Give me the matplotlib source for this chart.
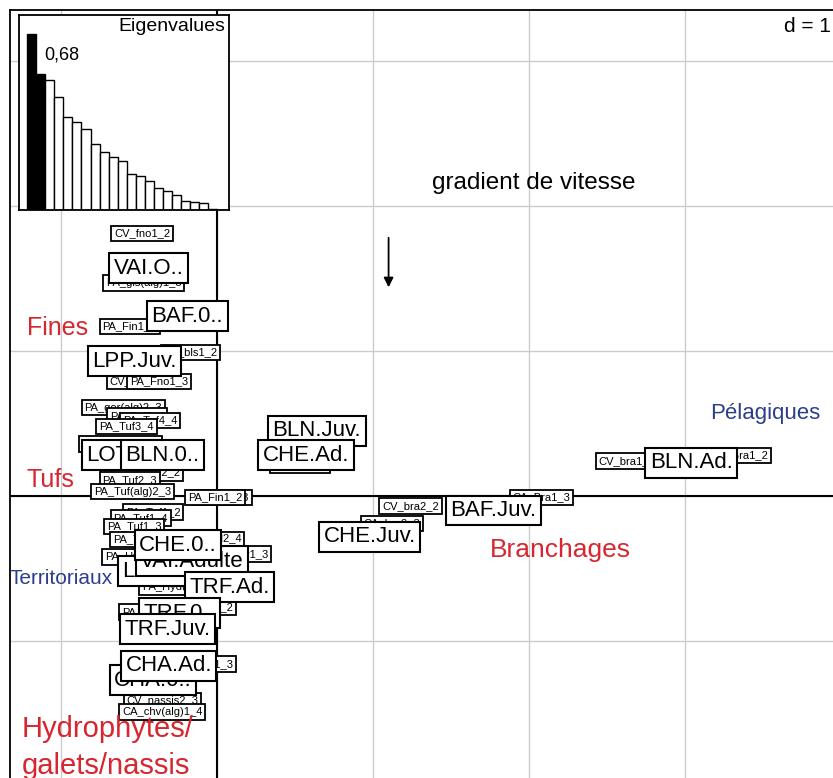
import matplotlib
matplotlib.use("Agg")
import matplotlib.pyplot as plt
import numpy as np

plt.rcParams['font.family'] = ['Liberation Sans', 'DejaVu Sans']

# ── eigenvalues (inset barplot) ─────────────────────────────────────
eigen = [0.68, 0.525, 0.502, 0.438, 0.358, 0.339, 0.313, 0.255, 0.223, 0.206,
         0.188, 0.139, 0.130, 0.113, 0.085, 0.072, 0.059, 0.033, 0.030, 0.026,
         0.004, 0.001]
n_kept = 2

# ── row scores (small labels: sites / substrates) ─────────────────
row_labels = ["CV_fno1_2", "PA_gis(alg)1_3", "PA_Fin1_1", "PA_bls1_2", "CV_fno1_3",
              "PA_Fno1_3", "PA_gor(alg)2_3", "PA_Tuf2_4", "PA_Tuf4_4", "PA_Tuf3_4",
              "PA_gor(alg)2_4", "PA_Tuf(alg)2_2", "PA_Tuf2_3", "PA_Tuf(alg)2_3",
              "PA_Fin1_3", "PA_Fin1_2", "PA_Tuf1_2", "PA_Tuf1_4", "PA_Tuf1_3",
              "PA_Tuf1_1", "PA_Hyd2_4", "PA_Hyd1_3", "PA_Ber1_3", "PA_Ber2_4",
              "PA_Hyd(alg)1_3", "PA_Ber1_4", "CV_Ber1_2", "CA_chv1_3",
              "CV_nassis2_3", "CA_chv(alg)1_4", "CV_bra2_2", "CA_Bra1_3",
              "CA_bra2_3", "CV_bra1_2", "CA_Bra1_2", "CV_bls2_2"]
row_x = [-0.48, -0.47, -0.56, -0.17, -0.51, -0.37, -0.60, -0.51, -0.43, -0.58,
         -0.62, -0.48, -0.56, -0.54, 0.03, -0.01, -0.41, -0.49, -0.53, -0.49,
         -0.03, -0.53, 0.15, -0.04, -0.22, -0.43, -0.08, -0.08, -0.35, -0.35,
         1.24, 2.08, 1.12, 2.63, 3.35, 0.53]
row_y = [1.81, 1.47, 1.17, 0.99, 0.79, 0.79, 0.61, 0.55, 0.52, 0.48,
         0.36, 0.16, 0.11, 0.03, -0.01, -0.01, -0.11, -0.15, -0.21, -0.30,
         -0.30, -0.42, -0.40, -0.49, -0.63, -0.80, -0.77, -1.16, -1.41, -1.49,
         -0.07, -0.01, -0.19, 0.24, 0.28, 0.21]

# ── column scores (large labels: species x stage) ─────────────────
col_labels = ["VAI.O..", "BAF.0..", "LPP.Juv.", "LOT.0..", "BLN.0..", "BLN.Juv.",
              "CHE.Ad.", "CHE.Juv.", "BAF.Juv.", "BLN.Ad.", "LOT.Juv.", "VAI.Adulte",
              "CHE.0..", "TRF.Ad.", "TRF.0..", "TRF.Juv.", "CHA.0..", "CHA.Ad."]
col_x = [-0.44, -0.19, -0.53, -0.61, -0.35, 0.64, 0.57, 0.98, 1.77, 3.04,
         -0.33, -0.16, -0.25, 0.08, -0.24, -0.32, -0.41, -0.31]
col_y = [1.57, 1.24, 0.93, 0.28, 0.28, 0.45, 0.28, -0.28, -0.10, 0.23,
         -0.52, -0.45, -0.34, -0.63, -0.81, -0.92, -1.27, -1.17]

# ── hand-added annotations ────────────────────────────────────────
red_txt = ["Fines", "Tufs", "Branchages", "Hydrophytes/", "galets/nassis"]
red_x = [-1.22, -1.22, 1.75, -1.25, -1.25]
red_y = [1.16, 0.11, -0.37, -1.61, -1.86]
red_size = [18, 18, 19, 21, 21]
blue_txt = ["Pélagiques", "Territoriaux"]
blue_x = [3.16, -1.33]
blue_y = [0.57, -0.57]
blue_size = [16, 15]
RED = '#d7262f'
BLUE = '#2c3e8c'

fig = plt.figure(figsize=(8.33, 7.78), dpi=100)
# main axes runs off the right and bottom edges (cropped figure)
ax = fig.add_axes([10 / 833, -22 / 778, 840 / 833, 790 / 778])
ax.set_xlim(-1.327, 4.058)
ax.set_ylim(-2.097, 3.352)
ax.set_xticks([]); ax.set_yticks([])
for s in ax.spines.values():
    s.set_linewidth(1.3)

# grid d = 1
for gx in range(-1, 5):
    ax.axvline(gx, color='#cccccc', lw=1, zorder=0)
for gy in range(-2, 4):
    ax.axhline(gy, color='#cccccc', lw=1, zorder=0)
ax.axhline(0, color='black', lw=1.5, zorder=1)
ax.axvline(0, color='black', lw=1.5, zorder=1)

box = dict(boxstyle='square,pad=0.25', fc='white', ec='black', lw=1.3)
for lab, x, y in zip(row_labels, row_x, row_y):
    ax.text(x, y, lab, fontsize=8, ha='center', va='center', bbox=box, zorder=3)
boxL = dict(boxstyle='square,pad=0.2', fc='white', ec='black', lw=1.5)
for lab, x, y in zip(col_labels, col_x, col_y):
    ax.text(x, y, lab, fontsize=16, ha='center', va='center', bbox=boxL, zorder=4)

for t, x, y, fs in zip(red_txt, red_x, red_y, red_size):
    ax.text(x, y, t, color=RED, fontsize=fs, ha='left', va='center', zorder=5)
for t, x, y, fs in zip(blue_txt, blue_x, blue_y, blue_size):
    ax.text(x, y, t, color=BLUE, fontsize=fs, ha='left', va='center', zorder=5)

ax.text(1.38, 2.16, "gradient de vitesse", fontsize=17.5, ha='left', va='center')
ax.annotate('', xy=(1.10, 1.42), xytext=(1.10, 1.80),
            arrowprops=dict(arrowstyle='-|>', color='black', lw=1.3,
                            mutation_scale=14))

fig.text(831 / 833, 1 - 26 / 778, "d = 1", fontsize=15, ha='right', va='center',
         bbox=dict(fc='white', ec='none', pad=1))

# eigenvalue inset
axi = fig.add_axes([19 / 833, 1 - 210 / 778, 210 / 833, 195 / 778])
idx = np.arange(len(eigen))
colors = ['black' if i < n_kept else 'white' for i in idx]
axi.bar(idx, eigen, width=1.0, color=colors, edgecolor='black', lw=1)
axi.set_xlim(-1.4, len(eigen) - 0.2)
axi.set_ylim(0, 0.753)
axi.set_xticks([]); axi.set_yticks([])
for s in axi.spines.values():
    s.set_linewidth(1.3)
axi.text(0.98, 0.985, "Eigenvalues", transform=axi.transAxes, fontsize=14,
         ha='right', va='top')
axi.text(0.12, 0.795, "0,68", transform=axi.transAxes, fontsize=13,
         ha='left', va='center')

fig.savefig('out.png', dpi=100)
